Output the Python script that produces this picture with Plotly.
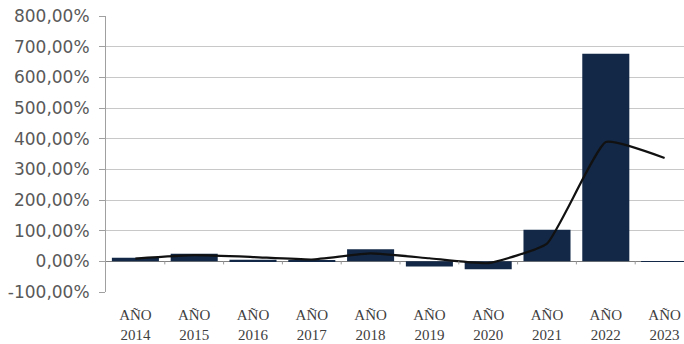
import plotly.graph_objects as go

categories = ["AÑO<br>2014", "AÑO<br>2015", "AÑO<br>2016", "AÑO<br>2017", "AÑO<br>2018",
              "AÑO<br>2019", "AÑO<br>2020", "AÑO<br>2021", "AÑO<br>2022", "AÑO<br>2023"]
bar_values = [12, 25, 5, 2, 39, -17, -26, 103, 677, -2]
line_values = [9, 20, 14, 6, 26, 10, -6, 58, 389, 337]
y_ticks = [-100, 0, 100, 200, 300, 400, 500, 600, 700, 800]
y_tick_text = ["-100,00%", "0,00%", "100,00%", "200,00%", "300,00%",
               "400,00%", "500,00%", "600,00%", "700,00%", "800,00%"]

x_idx = list(range(len(categories)))

fig = go.Figure()
fig.add_trace(go.Bar(x=x_idx, y=bar_values, marker_color="#132846",
                     marker_line_width=0, showlegend=False))
fig.add_trace(go.Scatter(x=x_idx, y=line_values, mode="lines",
                         line=dict(color="#111111", width=2.2, shape="spline", smoothing=0.4),
                         showlegend=False))

# small tick marks where the category axis crosses zero
for i in range(len(categories) - 1):
    fig.add_shape(type="line", xref="x", yref="y", x0=i + 0.5, x1=i + 0.5, y0=-10, y1=0,
                  line=dict(color="#999999", width=1))

fig.update_layout(
    width=684, height=344,
    margin=dict(l=106, r=0, t=16, b=52, autoexpand=False),
    paper_bgcolor="white", plot_bgcolor="white",
    bargap=0.2,
)
fig.update_xaxes(
    range=[-0.5, 9.33],
    tickmode="array", tickvals=x_idx, ticktext=categories,
    tickfont=dict(family="Liberation Serif", size=15, color="#404040"),
    showgrid=False, showline=False, zeroline=False,
    ticks="outside", ticklen=9, tickcolor="rgba(0,0,0,0)",
    automargin=False, ticklabeloverflow="allow",
)
fig.update_yaxes(
    range=[-100, 800],
    tickmode="array", tickvals=y_ticks, ticktext=y_tick_text,
    tickfont=dict(family="DejaVu Sans", size=17, color="#595959"),
    showgrid=True, gridcolor="#c8c8c8", gridwidth=1,
    showline=True, linecolor="#a0a0a0", linewidth=1,
    ticks="outside", ticklen=6, tickcolor="#a0a0a0",
    ticklabelstandoff=6,
    zeroline=True, zerolinecolor="#808080", zerolinewidth=1,
    automargin=False, ticklabeloverflow="allow",
)

fig.write_html("out.html", config={"displayModeBar": False},
               post_script="document.body.style.margin='0px';")
